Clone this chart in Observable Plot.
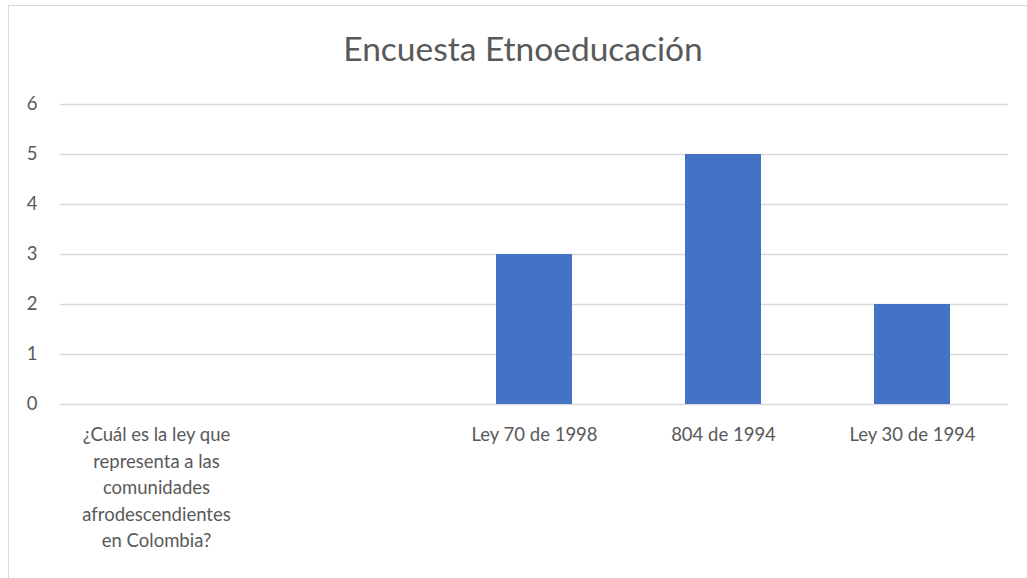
<!DOCTYPE html>
<html>
<head>
<meta charset="utf-8">
<script src="https://cdn.jsdelivr.net/npm/d3@7"></script>
<script src="https://cdn.jsdelivr.net/npm/@observablehq/plot@0.6"></script>
<style>
  html, body { margin: 0; padding: 0; background: #fff; }
  #wrap { position: relative; width: 1027px; height: 578px; overflow: hidden; font-family: Lato, "Open Sans", sans-serif; }
  #frame { position: absolute; left: 8px; top: 5px; width: 1040px; height: 600px; border-left: 1.5px solid #d9d9d9; border-top: 1.5px solid #d9d9d9; box-sizing: border-box; }
  #title { position: absolute; left: 0; width: 1046px; top: 26px; text-align: center; font-size: 33.5px; color: #595959; line-height: 44px; }
  #chart { position: absolute; left: 0; top: 0; }
</style>
</head>
<body>
<div id="wrap">
  <div id="frame"></div>
  <div id="title">Encuesta Etnoeducación</div>
  <div id="chart"></div>
</div>
<script>
const title = "Encuesta Etnoeducación";
const categories = [
  "¿Cuál es la ley que\nrepresenta a las\ncomunidades\nafrodescendientes\nen Colombia?",
  " ",
  "Ley 70 de 1998",
  "804 de 1994",
  "Ley 30 de 1994"
];
const values = [0, 0, 3, 5, 2];
const yTicks = [0, 1, 2, 3, 4, 5, 6];

const data = categories.map((c, i) => ({category: c, value: values[i]}));

const chart = Plot.plot({
  width: 1027,
  height: 578,
  marginLeft: 60,
  marginRight: 19,
  marginTop: 104,
  marginBottom: 174,
  style: {fontFamily: "Lato, 'Open Sans', sans-serif", fontSize: "18.5px", color: "#595959", background: "transparent"},
  x: {domain: categories, paddingInner: 0.6, paddingOuter: 0.3, label: null},
  y: {domain: [0, 6], label: null},
  marks: [
    Plot.ruleY(yTicks, {stroke: "#d9d9d9", strokeWidth: 1.3}),
    Plot.barY(data, {x: "category", y: "value", fill: "#4472C4"}),
    Plot.axisY({ticks: yTicks, tickFormat: d3.format("d"), tickSize: 0, tickPadding: 23, label: null, fill: "#595959", fontSize: 18.5}),
    Plot.axisX({tickSize: 0, tickPadding: 18, label: null, fill: "#595959", fontSize: 18.5, lineHeight: 1.43})
  ]
});
document.getElementById("chart").appendChild(chart);
</script>
</body>
</html>
